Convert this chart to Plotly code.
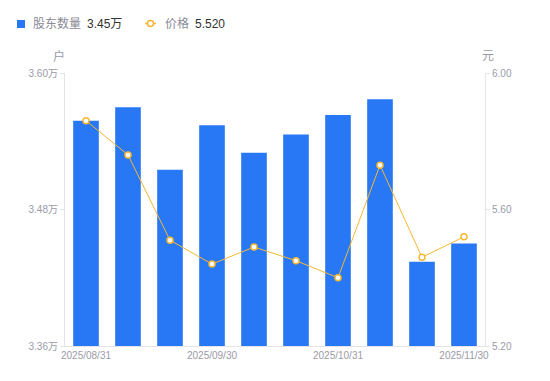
import plotly.graph_objects as go

dates = ["2025/08/31", "2025/09/10", "2025/09/19", "2025/09/30", "2025/10/10",
         "2025/10/20", "2025/10/31", "2025/11/10", "2025/11/20", "2025/11/30"]
holders = [3.558, 3.570, 3.515, 3.554, 3.530, 3.546, 3.563, 3.577, 3.434, 3.450]  # 万户
price = [5.86, 5.76, 5.51, 5.44, 5.49, 5.45, 5.40, 5.73, 5.46, 5.52]
x_ticks = ["2025/08/31", "2025/09/30", "2025/10/31", "2025/11/30"]
left_ticks = [3.36, 3.48, 3.60]
right_ticks = [5.20, 5.60, 6.00]

FONT = "Liberation Sans, Arial, Noto Sans CJK SC, sans-serif"
GREY = "#9a9aa8"
AXIS = "#e3e3e8"
BLUE = "#2878f5"
ORANGE = "#f7b733"

W, H = 550, 381
OFF = 8  # page body margin offset
# plot area in window pixels: x 65..485, y 73..346
ML, MT = 65 - OFF, 73 - OFF
MR, MB = W - (485 - OFF), H - (346 - OFF)
PW, PH = W - ML - MR, H - MT - MB


def px(x):  # window pixel -> paper
    return (x - OFF - ML) / PW


def py(y):
    return (H - MB - (y - OFF)) / PH


fig = go.Figure()
fig.add_trace(go.Bar(
    x=dates, y=holders, name="股东数量",
    marker=dict(color=BLUE, line=dict(width=0)), width=0.61, yaxis="y",
))
fig.add_trace(go.Scatter(
    x=dates, y=price, name="价格",
    mode="lines+markers", yaxis="y2",
    line=dict(color=ORANGE, width=1),
    marker=dict(size=6, color="white", line=dict(color=ORANGE, width=1.5)),
))

fig.update_layout(
    width=W, height=H,
    margin=dict(l=ML, r=MR, t=MT, b=MB, autoexpand=False),
    paper_bgcolor="white", plot_bgcolor="white",
    font=dict(family=FONT, size=11, color=GREY),
    showlegend=False,
    xaxis=dict(type="category", categoryorder="array", categoryarray=dates,
               range=[-0.5, len(dates) - 0.5],
               tickmode="array", tickvals=x_ticks, ticktext=x_ticks,
               showline=True, linecolor=AXIS, linewidth=1, ticks="", showgrid=False,
               tickfont=dict(size=10, color=GREY), zeroline=False),
    yaxis=dict(range=[3.36, 3.60], tickvals=left_ticks,
               ticktext=[f"{v:.2f}万" for v in left_ticks],
               showline=True, linecolor=AXIS, linewidth=1, ticks="outside",
               ticklen=4, tickcolor=AXIS, showgrid=False, zeroline=False,
               tickfont=dict(size=10, color=GREY)),
    yaxis2=dict(range=[5.20, 6.00], tickvals=right_ticks,
                ticktext=[f"{v:.2f}" for v in right_ticks],
                overlaying="y", side="right",
                showline=True, linecolor=AXIS, linewidth=1, ticks="outside",
                ticklen=4, tickcolor=AXIS, showgrid=False, zeroline=False,
                tickfont=dict(size=10, color=GREY)),
)

ann = []
for txt, x in (("户", 59), ("元", 488)):
    ann.append(dict(text=txt, x=px(x), y=py(56), xref="paper", yref="paper",
                    xanchor="center", yanchor="middle",
                    showarrow=False, font=dict(size=12, color=GREY, family=FONT)))
# custom legend
leg = [
    ("股东数量", 31, "#8a8a96"), ("3.45万", 85, "#333333"),
    ("价格", 163, "#8a8a96"), ("5.520", 193, "#333333"),
]
for txt, x, c in leg:
    ann.append(dict(text=txt, x=px(x), y=py(24), xref="paper", yref="paper",
                    xanchor="left", yanchor="middle", showarrow=False,
                    font=dict(size=12, color=c, family=FONT)))
fig.layout.annotations = ann

fig.layout.shapes = [
    dict(type="rect", xref="paper", yref="paper", x0=px(17), x1=px(25), y0=py(28), y1=py(20),
         fillcolor=BLUE, line=dict(width=0)),
    dict(type="line", xref="paper", yref="paper", x0=px(145), x1=px(156), y0=py(23.5), y1=py(23.5),
         line=dict(color=ORANGE, width=1.5)),
    dict(type="circle", xref="paper", yref="paper", x0=px(147.5), x1=px(153.5), y0=py(26.5), y1=py(20.5),
         fillcolor="white", line=dict(color=ORANGE, width=1.5)),
]

fig.write_html("out.html")
